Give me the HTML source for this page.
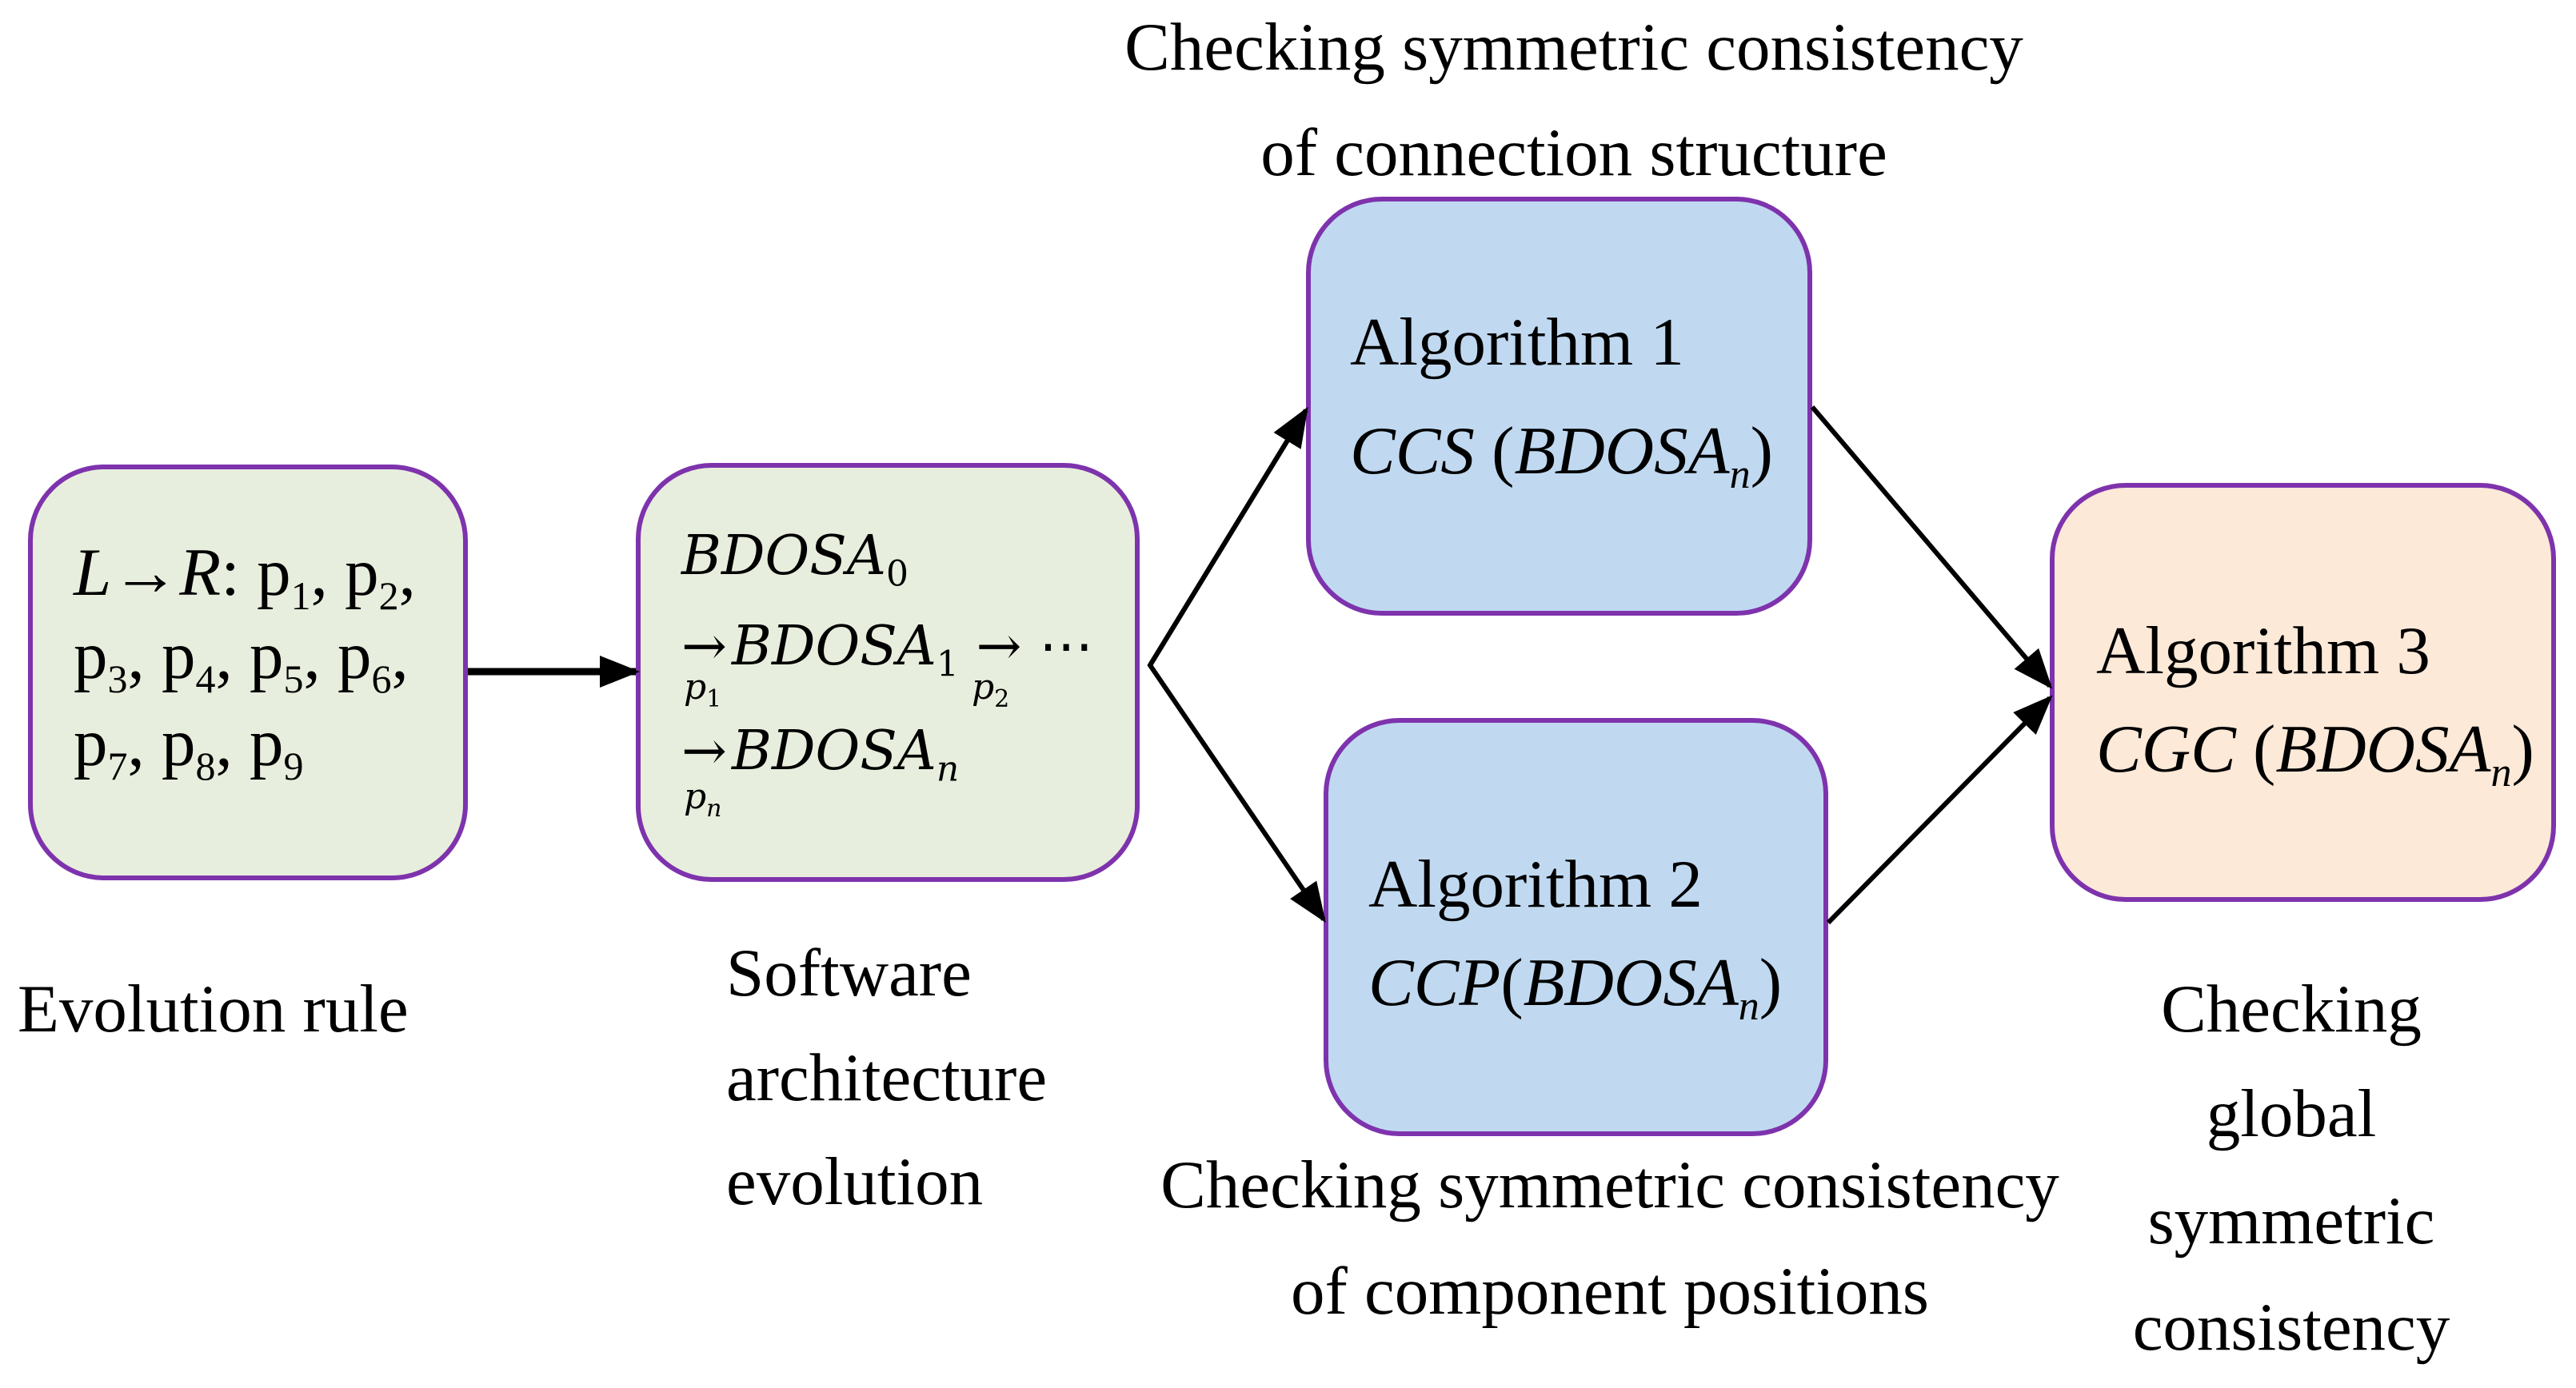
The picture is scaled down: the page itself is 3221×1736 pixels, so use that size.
<!DOCTYPE html>
<html><head><meta charset="utf-8"><style>
body{margin:0;background:#fff;width:3221px;height:1736px;overflow:hidden;position:relative;font-family:"Liberation Serif",serif;color:#000}
.b{position:absolute;border:6px solid #7e33ad;border-radius:95px;box-sizing:border-box}
.t{position:absolute;white-space:nowrap;font-size:85px;line-height:1}
i{font-style:italic}
</style></head><body>
<div class="b" style="left:35px;top:581px;width:550px;height:520px;background:#e8eedd"></div>
<div class="b" style="left:795px;top:579px;width:630px;height:524px;background:#e8eedd"></div>
<div class="b" style="left:1633px;top:246px;width:633px;height:524px;background:#c0d9f1"></div>
<div class="b" style="left:1655px;top:898px;width:631px;height:523px;background:#c0d9f1"></div>
<div class="b" style="left:2563px;top:604px;width:633px;height:524px;background:#fce9d8"></div>
<svg width="3221" height="1736" style="position:absolute;left:0;top:0">
<defs>
<marker id="m" viewBox="0 0 10 10" refX="9" refY="5" markerWidth="50" markerHeight="50" markerUnits="userSpaceOnUse" orient="auto"><path d="M0,1 L10,5 L0,9z"/></marker></defs>
<line x1="585" y1="840" x2="795" y2="840" stroke="#000" stroke-width="9" marker-end="url(#m)"/>
<g stroke="#000" stroke-width="6" fill="none">
<polyline points="1633,513 1438,832 1655,1150" marker-end="url(#m)"/>
<line x1="1438" y1="832" x2="1633" y2="513" marker-end="url(#m)"/>
<line x1="2266" y1="509" x2="2563" y2="858" marker-end="url(#m)"/>
<line x1="2286" y1="1154" x2="2563" y2="873" marker-end="url(#m)"/>
</g>
</svg>
<div class="t" style="left:1368px;width:1200px;top:17px;text-align:center">Checking symmetric consistency</div>
<div class="t" style="left:1368px;width:1200px;top:149px;text-align:center">of connection structure</div>
<div class="t" style="left:1688px;top:386px">Algorithm 1</div>
<div class="t" style="left:1688px;top:522px"><i>CCS</i> (<i>BDOSA<sub style="font-size:52px">n</sub></i>)</div>
<div class="t" style="left:1711px;top:1064px">Algorithm 2</div>
<div class="t" style="left:1711px;top:1187px"><i>CCP</i>(<i>BDOSA<sub style="font-size:52px">n</sub></i>)</div>
<div class="t" style="left:2621px;top:772px">Algorithm 3</div>
<div class="t" style="left:2621px;top:895px"><i>CGC</i> (<i>BDOSA<sub style="font-size:52px">n</sub></i>)</div>
<div class="t" style="left:92px;top:674px"><i>L</i>→<i>R</i>: p<sub style="font-size:50px">1</sub>, p<sub style="font-size:50px">2</sub>,</div>
<div class="t" style="left:92px;top:778px">p<sub style="font-size:50px">3</sub>, p<sub style="font-size:50px">4</sub>, p<sub style="font-size:50px">5</sub>, p<sub style="font-size:50px">6</sub>,</div>
<div class="t" style="left:92px;top:887px">p<sub style="font-size:50px">7</sub>, p<sub style="font-size:50px">8</sub>, p<sub style="font-size:50px">9</sub></div>
<div class="t" style="left:852px;top:662px;font-size:68px;font-family:'DejaVu Serif',serif"><i>BDOSA</i><sub style="font-size:44px">0</sub></div>
<div class="t" style="left:852px;top:775px;font-size:68px;font-family:'DejaVu Serif',serif">→<i style="margin-left:6px">BDOSA</i><sub style="font-size:44px">1</sub> → ⋯</div>
<div class="t" style="left:855px;top:838px;font-size:44px;font-family:'DejaVu Serif',serif"><i>p</i><sub style="font-size:30px">1</sub></div>
<div class="t" style="left:1215px;top:838px;font-size:44px;font-family:'DejaVu Serif',serif"><i>p</i><sub style="font-size:30px">2</sub></div>
<div class="t" style="left:852px;top:906px;font-size:68px;font-family:'DejaVu Serif',serif">→<i style="margin-left:6px">BDOSA<sub style="font-size:44px">n</sub></i></div>
<div class="t" style="left:855px;top:975px;font-size:44px;font-family:'DejaVu Serif',serif"><i>p<sub style="font-size:30px">n</sub></i></div>
<div class="t" style="left:22px;top:1220px">Evolution rule</div>
<div class="t" style="left:908px;top:1175px">Software</div>
<div class="t" style="left:908px;top:1306px">architecture</div>
<div class="t" style="left:908px;top:1436px">evolution</div>
<div class="t" style="left:1413px;width:1200px;top:1440px;text-align:center">Checking symmetric consistency</div>
<div class="t" style="left:1413px;width:1200px;top:1573px;text-align:center">of component positions</div>
<div class="t" style="left:2565px;width:600px;top:1220px;text-align:center">Checking</div>
<div class="t" style="left:2565px;width:600px;top:1351px;text-align:center">global</div>
<div class="t" style="left:2565px;width:600px;top:1485px;text-align:center">symmetric</div>
<div class="t" style="left:2565px;width:600px;top:1618px;text-align:center">consistency</div>
</body></html>
